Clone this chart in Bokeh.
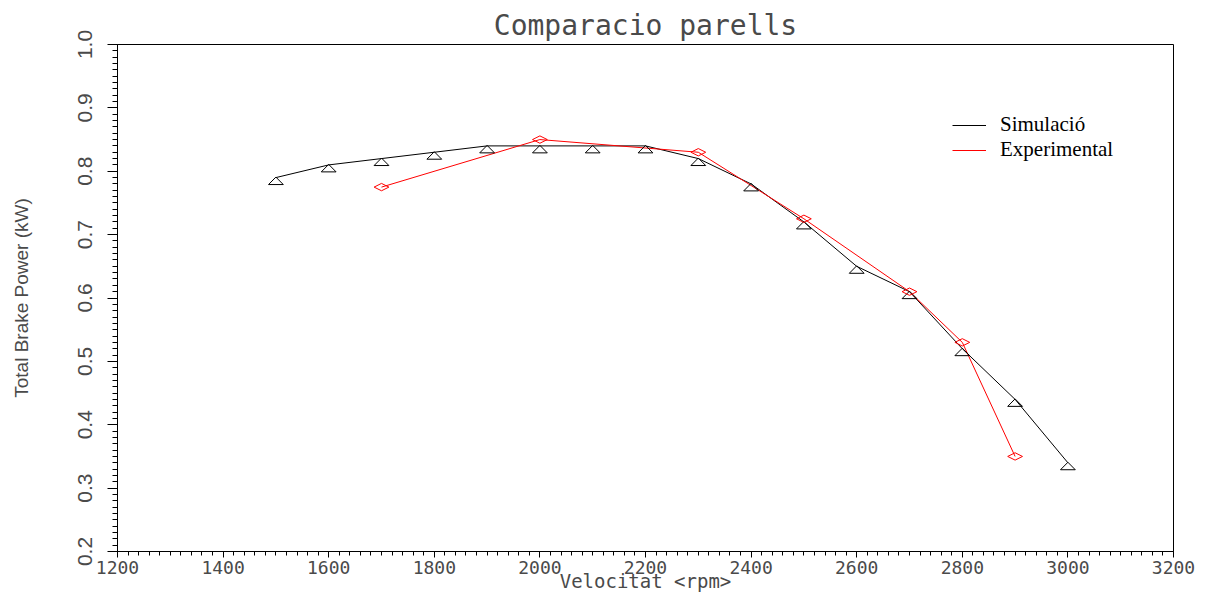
from bokeh.plotting import figure
from bokeh.models import (SingleIntervalTicker, PrintfTickFormatter, Legend,
                          LegendItem, Range1d)
from bokeh.embed import file_html
from bokeh.resources import INLINE

# ---- data ----
title_text = "Comparacio parells"
x_label = "Velocitat <rpm>"
y_label = "Total Brake Power (kW)"

sim_rpm = [1500, 1600, 1700, 1800, 1900, 2000, 2100, 2200,
           2300, 2400, 2500, 2600, 2700, 2800, 2900, 3000]
sim_power = [0.79, 0.81, 0.82, 0.83, 0.84, 0.84, 0.84, 0.84,
             0.82, 0.78, 0.72, 0.65, 0.61, 0.52, 0.44, 0.34]

exp_rpm = [1700, 2000, 2300, 2500, 2700, 2800, 2900]
exp_power = [0.775, 0.85, 0.83, 0.725, 0.61, 0.53, 0.35]

series_names = ["Simulació", "Experimental"]

x_range = (1200, 3200)
y_range = (0.2, 1.0)

# ---- figure ----
p = figure(width=1215, height=594, output_backend="svg", toolbar_location=None,
           x_range=Range1d(*x_range), y_range=Range1d(*y_range),
           min_border_left=117, min_border_right=42,
           min_border_top=44, min_border_bottom=41)

p.title.text = title_text
p.title.align = "center"
p.title.text_font = "DejaVu Sans Mono"
p.title.text_font_style = "normal"
p.title.text_font_size = "28px"
p.title.text_color = "#4a4a4a"
p.title.standoff = 5

p.grid.visible = False
p.outline_line_color = "black"
p.outline_line_width = 1
p.background_fill_color = "white"
p.border_fill_color = "white"

# x axis
xa = p.xaxis[0]
xa.ticker = SingleIntervalTicker(interval=200, num_minor_ticks=10)
xa.major_tick_in = 0
xa.major_tick_out = 6
xa.minor_tick_in = 0
xa.minor_tick_out = 4
xa.major_label_standoff = 3
xa.major_label_text_font = "DejaVu Sans Mono"
xa.major_label_text_font_size = "18px"
xa.major_label_text_color = "#4a4a4a"
xa.axis_label = x_label
xa.axis_label_text_font = "DejaVu Sans Mono"
xa.axis_label_text_font_style = "normal"
xa.axis_label_text_font_size = "19px"
xa.axis_label_text_color = "#4a4a4a"
xa.axis_label_standoff = -7
xa.axis_line_color = "black"

# y axis
ya = p.yaxis[0]
ya.ticker = SingleIntervalTicker(interval=0.1, num_minor_ticks=10)
ya.formatter = PrintfTickFormatter(format="%.1f")
ya.major_tick_in = 0
ya.major_tick_out = 10
ya.minor_tick_in = 0
ya.minor_tick_out = 5
ya.major_label_orientation = "vertical"
ya.major_label_standoff = 16
ya.major_label_text_font = "Liberation Sans"
ya.major_label_text_font_size = "21px"
ya.major_label_text_color = "#4a4a4a"
ya.axis_label = y_label
ya.axis_label_text_font = "Liberation Sans"
ya.axis_label_text_font_style = "normal"
ya.axis_label_text_font_size = "19px"
ya.axis_label_text_color = "#4a4a4a"
ya.axis_label_standoff = 43
ya.axis_line_color = "black"

# ---- lines ----
sim_line = p.line(sim_rpm, sim_power, line_color="black", line_width=1)
exp_line = p.line(exp_rpm, exp_power, line_color="#ff0000", line_width=1)

# triangle markers (flat, apex at the data point)
tri_dx = 14
tri_dy = 0.011
tri_xs = [[x - tri_dx, x, x + tri_dx] for x in sim_rpm]
tri_ys = [[y - tri_dy, y + 0.0008, y - tri_dy] for y in sim_power]
p.patches(tri_xs, tri_ys, fill_color=None, line_color="black", line_width=1)

# diamond markers (flat, centred on the data point)
dia_dx = 14
dia_dy = 0.0058
dia_xs = [[x - dia_dx, x, x + dia_dx, x] for x in exp_rpm]
dia_ys = [[y, y + dia_dy, y, y - dia_dy] for y in exp_power]
p.patches(dia_xs, dia_ys, fill_color=None, line_color="#ff0000", line_width=1)

# ---- legend ----
legend = Legend(items=[LegendItem(label=series_names[0], renderers=[sim_line]),
                       LegendItem(label=series_names[1], renderers=[exp_line])],
                location=(835, 389))
legend.border_line_color = None
legend.background_fill_alpha = 0
legend.padding = 0
legend.margin = 0
legend.spacing = 0
legend.glyph_width = 34
legend.glyph_height = 20
legend.label_height = 20
legend.label_standoff = 14
legend.label_text_font = "Liberation Serif"
legend.label_text_font_size = "21px"
legend.label_text_color = "black"
p.add_layout(legend, "center")

open("out.html", "w").write(file_html(p, INLINE))
